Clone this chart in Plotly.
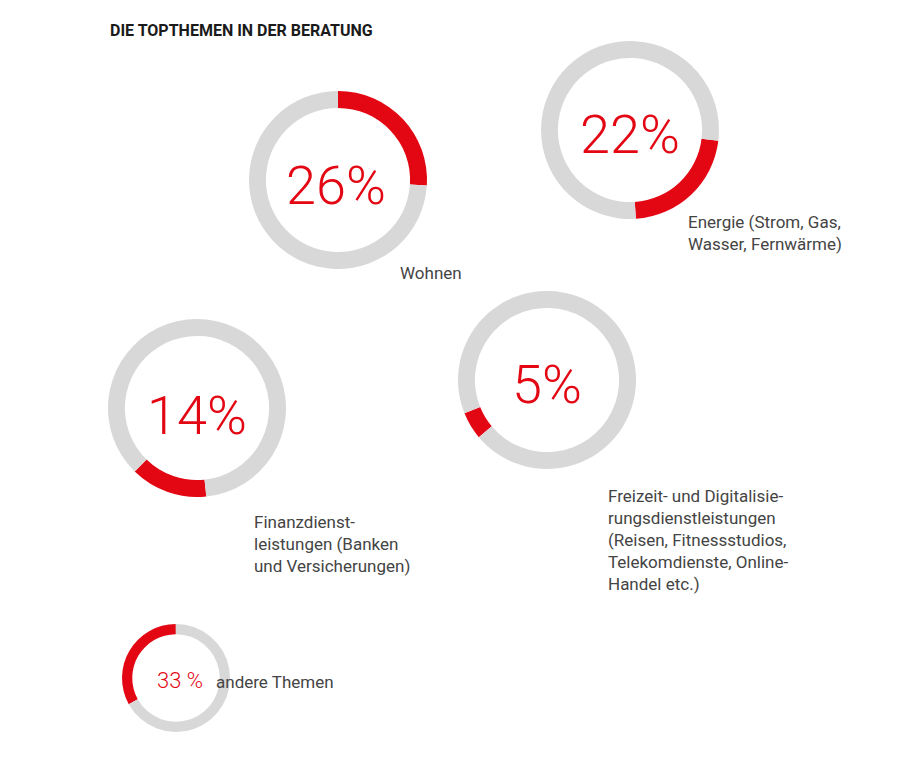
import plotly.graph_objects as go

W, H = 903, 783
OFF = 8  # default page margin of the html body
RED = "#e30613"
GREY = "#d9d8d8"

shares = [26, 22, 14, 5, 33]
pct_text = ["26%", "22%", "14%", "5%", "33 %"]
labels = ["Wohnen",
          "Energie (Strom, Gas,<br>Wasser, Fernwärme)",
          "Finanzdienst-<br>leistungen (Banken<br>und Versicherungen)",
          "Freizeit- und Digitalisie-<br>rungsdienstleistungen<br>(Reisen, Fitnessstudios,<br>Telekomdienste, Online-<br>Handel etc.)",
          "andere Themen"]

# layout in pixels: centre x, centre y, radius, start angle, pct font, label pos
centers = [(338, 180, 89), (630, 130, 89), (197, 408, 89), (547, 380, 89), (176, 678, 54)]
rotations = [0, 97, 174, 230, 241]
pct_sizes = [54, 54, 54, 54, 22]
pct_shift = [(-2, 5), (0, 5), (0, 8), (0, 5), (4, 2)]
label_pos = [(398, 273, "left", "middle"), (686, 210, "left", "top"), (252, 510, "left", "top"),
             (606, 484, "left", "top"), (214, 682, "left", "middle")]


def px(x, y):
    return (x - OFF) / W, 1 - (y - OFF) / H


fig = go.Figure()
for s, (cx, cy, r), rot, txt, fs, sh in zip(shares, centers, rotations, pct_text, pct_sizes, pct_shift):
    x0, y1 = px(cx - r, cy - r)
    x1, y0 = px(cx + r, cy + r)
    fig.add_trace(go.Pie(
        values=[s, 100 - s], marker=dict(colors=[RED, GREY], line=dict(width=0)),
        hole=0.81, sort=False, direction="clockwise", rotation=rot,
        textinfo="none", hoverinfo="skip", showlegend=False,
        domain=dict(x=[x0, x1], y=[y0, y1])))
    ax, ay = px(cx + sh[0], cy + sh[1])
    fig.add_annotation(x=ax, y=ay, xref="paper", yref="paper", xanchor="center", yanchor="middle",
                       text=txt, showarrow=False,
                       font=dict(size=fs, color=RED, family="Roboto", weight=300))

for lab, (lx, ly, xa, ya) in zip(labels, label_pos):
    ax, ay = px(lx, ly)
    fig.add_annotation(x=ax, y=ay, xref="paper", yref="paper", text=lab,
                       showarrow=False, xanchor=xa, yanchor=ya, align="left",
                       font=dict(size=17, color="#444444", family="Roboto"))

ax, ay = px(108, 30)
fig.add_annotation(x=ax, y=ay, xref="paper", yref="paper",
                   text="<b>DIE TOPTHEMEN IN DER BERATUNG</b>", showarrow=False,
                   xanchor="left", yanchor="middle",
                   font=dict(size=16, color="#1a1a1a", family="Roboto"))

fig.update_layout(width=W, height=H, margin=dict(l=0, r=0, t=0, b=0),
                  paper_bgcolor="white", plot_bgcolor="white")
fig.write_html("out.html")
